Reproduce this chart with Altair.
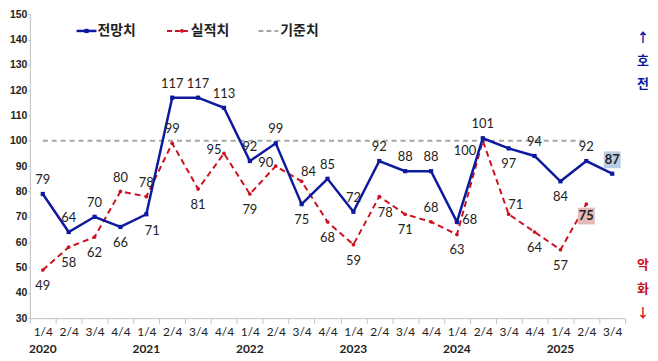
import altair as alt
import pandas as pd

# ---- data ----
years = ["2020"] * 4 + ["2021"] * 4 + ["2022"] * 4 + ["2023"] * 4 + ["2024"] * 4 + ["2025"] * 3
quarters = ["1/4", "2/4", "3/4", "4/4"] * 5 + ["1/4", "2/4", "3/4"]
forecast = [79, 64, 70, 66, 71, 117, 117, 113, 92, 99, 75, 85, 72, 92, 88, 88, 68, 101, 97, 94, 84, 92, 87]
actual = [49, 58, 62, 80, 78, 99, 81, 95, 79, 90, 84, 68, 59, 78, 71, 68, 63, 100, 71, 64, 57, 75]
baseline = [100, 100, 100, 100, 100, 100, 100, 100, 100, 100, 100,
            100, 100, 100, 100, 100, 100, 100, 100, 100, 100, 100]
# label placement (a=above, b=below, r=right, ar/al/br/bl = diagonal, box = highlighted)
forecast_pos = ["a", "a", "a", "b", "br", "a", "a", "a", "a", "a", "b", "a",
                "a", "a", "a", "a", "r", "a", "b", "a", "b", "a", "box"]
actual_pos = ["b", "b", "b", "a", "a", "a", "b", "al", "b", "al", "ar", "b",
              "b", "br", "b", "a", "b", "bl", "ar", "b", "b", "box"]
y_ticks = [30, 40, 50, 60, 70, 80, 90, 100, 110, 120, 130, 140, 150]

keys = [f"{y} {q}" for y, q in zip(years, quarters)]

df_f = pd.DataFrame({"key": keys, "value": forecast, "pos": forecast_pos})
df_a = pd.DataFrame({"key": keys[:len(actual)], "value": actual, "pos": actual_pos})
df_b = pd.DataFrame({"key": keys[:len(baseline)], "value": baseline})
df_year = pd.DataFrame({"key": keys, "year": years, "q": quarters})
df_year = df_year[df_year["q"] == "1/4"]
one = pd.DataFrame({"d": [0]})

BLUE = "#0d1a9e"
RED = "#cc1122"
GRAY = "#a6a6a6"
W, H = 599, 306
NUM_FONT = "Lato"
KR_FONT = "Noto Sans CJK KR"

x_axis = alt.Axis(
    title=None, labelExpr="split(datum.label, ' ')[1]", labelAngle=0,
    tickBand="extent", tickSize=5, tickColor="#bfbfbf", domainColor="#bfbfbf",
    labelFont=NUM_FONT, labelFontSize=12, labelColor="#222222", labelPadding=3,
)
y_axis = alt.Axis(
    title=None, values=y_ticks, grid=False, tickSize=2, tickColor="#bfbfbf",
    domainColor="#bfbfbf", labelFont="Liberation Sans", labelFontWeight="bold",
    labelFontSize=10.5, labelColor="#222222", labelPadding=1,
)


def X():
    return alt.X("key:N", sort=keys,
                 scale=alt.Scale(type="band", domain=keys, paddingInner=0, paddingOuter=0),
                 bandPosition=0.5, axis=x_axis)


def Y():
    return alt.Y("value:Q", scale=alt.Scale(domain=[30, 150], nice=False, zero=False), axis=y_axis)


base_line = alt.Chart(df_b).mark_line(color=GRAY, strokeDash=[5, 4], strokeWidth=2).encode(x=X(), y=Y())

red_line = alt.Chart(df_a).mark_line(
    color=RED, strokeDash=[6, 4], strokeWidth=2,
    point=alt.OverlayMarkDef(shape="circle", size=14, filled=True, color=RED),
).encode(x=X(), y=Y())

blue_line = alt.Chart(df_f).mark_line(
    color=BLUE, strokeWidth=2.5,
    point=alt.OverlayMarkDef(shape="square", size=18, filled=True, color=BLUE),
).encode(x=X(), y=Y())

offsets = {
    "a": (0, -14), "b": (0, 16), "r": (13, -2), "l": (-14, 0),
    "ar": (7, -9), "al": (-10, -3), "br": (6, 17), "bl": (-18, 10),
}


def labels(df):
    layers = []
    for p, (dx, dy) in offsets.items():
        if (df["pos"] == p).any():
            layers.append(
                alt.Chart(df).transform_filter(alt.datum.pos == p).mark_text(
                    dx=dx, dy=dy, font=NUM_FONT, fontSize=13, color="#222222"
                ).encode(x=X(), y=Y(), text="value:Q")
            )
    return layers


box_f = alt.Chart(df_f).transform_filter(alt.datum.pos == "box").mark_square(
    size=285, color="#b8cce4", opacity=1, yOffset=-14
).encode(x=X(), y=Y())
box_f_txt = alt.Chart(df_f).transform_filter(alt.datum.pos == "box").mark_text(
    dy=-14, font=NUM_FONT, fontSize=13, fontWeight="bold", color="#222222"
).encode(x=X(), y=Y(), text="value:Q")
box_a = alt.Chart(df_a).transform_filter(alt.datum.pos == "box").mark_square(
    size=285, color="#e6b9b8", opacity=1, yOffset=12
).encode(x=X(), y=Y())
box_a_txt = alt.Chart(df_a).transform_filter(alt.datum.pos == "box").mark_text(
    dy=12, font=NUM_FONT, fontSize=13, fontWeight="bold", color="#222222"
).encode(x=X(), y=Y(), text="value:Q")

year_txt = alt.Chart(df_year).mark_text(
    font=NUM_FONT, fontSize=12, fontWeight="bold", color="#222222", baseline="middle"
).encode(x=X(), y=alt.value(H + 31), text="year:N")

# ---- legend (decoration) ----
LY = 17
leg = [
    alt.Chart(one).mark_rule(color=BLUE, strokeWidth=2.5).encode(x=alt.value(47), x2=alt.value(67), y=alt.value(LY)),
    alt.Chart(one).mark_point(shape="square", size=18, filled=True, color=BLUE, opacity=1).encode(x=alt.value(57), y=alt.value(LY)),
    alt.Chart(one).mark_text(text="전망치", align="left", font=KR_FONT, fontWeight="bold", fontSize=14, color="#222222").encode(x=alt.value(68), y=alt.value(LY)),
    alt.Chart(one).mark_rule(color=RED, strokeWidth=2, strokeDash=[5, 3]).encode(x=alt.value(138), x2=alt.value(160), y=alt.value(LY)),
    alt.Chart(one).mark_point(shape="circle", size=14, filled=True, color=RED, opacity=1).encode(x=alt.value(153), y=alt.value(LY)),
    alt.Chart(one).mark_text(text="실적치", align="left", font=KR_FONT, fontWeight="bold", fontSize=14, color="#222222").encode(x=alt.value(162), y=alt.value(LY)),
    alt.Chart(one).mark_rule(color=GRAY, strokeWidth=2, strokeDash=[5, 3]).encode(x=alt.value(230), x2=alt.value(250), y=alt.value(LY)),
    alt.Chart(one).mark_text(text="기준치", align="left", font=KR_FONT, fontWeight="bold", fontSize=14, color="#222222").encode(x=alt.value(252), y=alt.value(LY)),
]

side = [
    alt.Chart(one).mark_text(text="↑\n호\n전", lineBreak="\n", lineHeight=23, baseline="middle",
                             font=KR_FONT, fontWeight="bold", fontSize=13, color=BLUE).encode(x=alt.value(617), y=alt.value(24)),
    alt.Chart(one).mark_text(text="악\n화\n↓", lineBreak="\n", lineHeight=24, baseline="middle",
                             font=KR_FONT, fontWeight="bold", fontSize=13, color=RED).encode(x=alt.value(617), y=alt.value(253)),
]

chart = alt.layer(
    base_line, red_line, blue_line,
    *labels(df_a), *labels(df_f),
    box_f, box_f_txt, box_a, box_a_txt,
    year_txt, *leg, *side,
).properties(
    width=W, height=H,
    autosize=alt.AutoSizeParams(type="none"),
    padding={"left": 22, "top": 5, "right": 25, "bottom": 41},
    background="white",
).configure_view(stroke=None)

chart.save("out.html", embed_options={"renderer": "svg", "actions": False})
